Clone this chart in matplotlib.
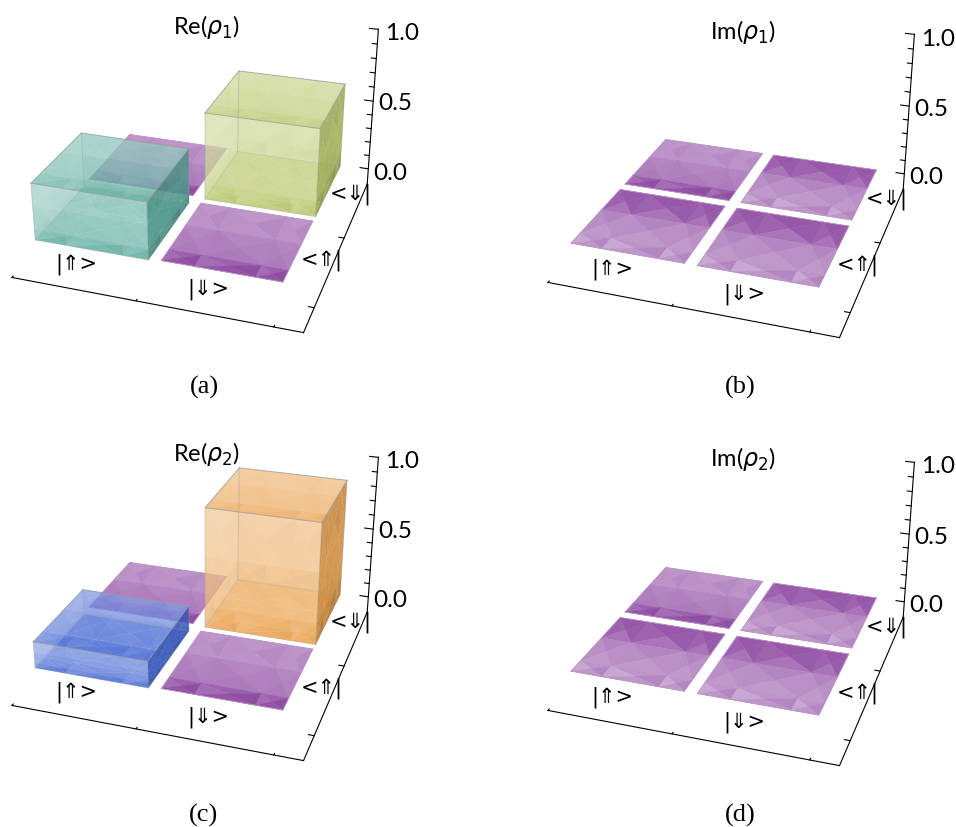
import numpy as np
import matplotlib
matplotlib.use('Agg')
import matplotlib.pyplot as plt
from mpl_toolkits.mplot3d.art3d import Poly3DCollection

plt.rcParams['mathtext.fontset'] = 'dejavusans'
SANS = ['Lato', 'DejaVu Sans']

# heights of the density matrix cells, [ket, bra]
re1 = [[0.386, 0.012], [0.012, 0.607]]
im1 = [[0.012, 0.012], [0.012, 0.012]]
re2 = [[0.18, 0.012], [0.012, 0.83]]
im2 = [[0.012, 0.012], [0.012, 0.012]]
titles = ['Re($\\rho_1$)', 'Im($\\rho_1$)', 'Re($\\rho_2$)', 'Im($\\rho_2$)']
captions = ['(a)', '(b)', '(c)', '(d)']
kets = ['|⇑>', '|⇓>']
bras = ['<⇑|', '<⇓|']
zticks = [0.0, 0.5, 1.0]
zminor = [0.1, 0.2, 0.3, 0.4, 0.6, 0.7, 0.8, 0.9]

# bar colours per panel, [ket][bra]; anything else is a flat purple sheet
PURPLE = (0.56, 0.29, 0.64)
bar_cols = [
    {(0, 0): (0.33, 0.66, 0.60), (1, 1): (0.70, 0.76, 0.36)},
    {},
    {(0, 0): (0.22, 0.37, 0.82), (1, 1): (0.91, 0.60, 0.24)},
    {},
]
# which way the sheets get lighter: +1 to the back, -1 to the front
sheet_dir = [
    {(1, 0): 1, (0, 1): 1},
    {(0, 1): 1, (1, 1): -1, (0, 0): -1, (1, 0): -1},
    {(1, 0): 1, (0, 1): 1},
    {(0, 1): 1, (1, 1): -1, (0, 0): -1, (1, 0): -1},
]
panels = [re1, im1, re2, im2]
offsets = [(0, 0), (536, 5), (0, 428), (536, 433)]

# view, found by fitting to the picture
ELEV, AZIM, FOCAL, KZ = 25.96, -71.65, 0.4156, 1.2351
S, TX, TY = 2704.82, 203.02, 148.5
G = 0.05
X0, XE, YE, Y1, ZB, XT, YT = 0.008, 2.1818, -0.2669, 1.9825, -0.1177, 0.975, 0.045
W, H = 956, 828

UB = [0, 0.28, 0.78, 1]
VB = [0, 0.18, 0.6, 1]
FACET = [0.0, 0.07, -0.04, 0.09, 0.03, -0.06, 0.05, -0.02, 0.08, -0.05, 0.02, 0.06]
# where the z tick labels sit in panel (a), pixels
zlab_x = [373, 378, 385]
zlab_y = [173, 104, 34]


def shade(col, t):
    col = np.array(col)
    if t >= 0:
        return tuple(col + (1 - col) * min(t, 1))
    return tuple(col * (1 + t))


def face(ax, corners, col, t0, t1, alpha, z, amp=1.0, seam=0.0):
    # corners go p00 p10 p11 p01, t runs from t0 at v=0 to t1 at v=1
    p00, p10, p11, p01 = [np.array(c, float) for c in corners]

    def at(u, v):
        return (p00 * (1 - u) + p10 * u) * (1 - v) + (p01 * (1 - u) + p11 * u) * v
    tris, cols = [], []
    k = 0
    for i in range(3):
        for j in range(3):
            u0, u1, v0, v1 = UB[i], UB[i + 1], VB[j], VB[j + 1]
            vm = (v0 + v1) / 2
            c = at((u0 + u1) / 2, vm)
            a, b, d, e = at(u0, v0), at(u1, v0), at(u1, v1), at(u0, v1)
            for q, r, vt in [(a, b, v0), (b, d, vm), (d, e, v1), (e, a, vm)]:
                tris.append([q, r, c])
                t = t0 + (t1 - t0) * (vt + vm) / 2
                cols.append(shade(col, t + amp * FACET[k % 12]) + (alpha,))
                k += 5
    pc = Poly3DCollection(tris, facecolors=cols, edgecolors=cols if seam else 'none', linewidths=seam, zorder=z)
    ax.add_collection3d(pc)


def edges(ax, x0, x1, y0, y1, z0, z1, col, z, lw=0.7):
    for a, b in [((x0, y0), (x1, y0)), ((x1, y0), (x1, y1)), ((x1, y1), (x0, y1)), ((x0, y1), (x0, y0))]:
        ax.plot([a[0], b[0]], [a[1], b[1]], [z1, z1], color=col, lw=lw, zorder=z + 0.5)
        if z1 - z0 > 0.05:
            ax.plot([a[0], b[0]], [a[1], b[1]], [z0, z0], color=col, lw=lw, alpha=0.3, zorder=z + 0.5)
            ax.plot([a[0], a[0]], [a[1], a[1]], [z0, z1], color=col, lw=lw, alpha=0.4, zorder=z + 0.5)


def bar(ax, i, j, h, col, z):
    x0, x1, y0, y1 = i + G, i + 1 - G, j + G, j + 1 - G
    f = lambda *p: [(p[k], p[k + 1], p[k + 2]) for k in range(0, 12, 3)]
    face(ax, f(x0, y0, 0, x1, y0, 0, x1, y1, 0, x0, y1, 0), col, 0.0, 0.1, 0.75, z)
    face(ax, f(x0, y1, 0, x1, y1, 0, x1, y1, h, x0, y1, h), col, -0.05, 0.3, 0.55, z + 0.01)
    face(ax, f(x0, y0, 0, x0, y1, 0, x0, y1, h, x0, y0, h), col, -0.05, 0.3, 0.45, z + 0.02)
    face(ax, f(x1, y0, 0, x1, y1, 0, x1, y1, h, x1, y0, h), col, -0.28, -0.12, 0.72, z + 0.03)
    face(ax, f(x0, y0, 0, x1, y0, 0, x1, y0, h, x0, y0, h), col, 0.18, 0.66, 0.5, z + 0.04)
    face(ax, f(x0, y0, h, x1, y0, h, x1, y1, h, x0, y1, h), col, 0.05, 0.55, 0.5, z + 0.05)
    edges(ax, x0, x1, y0, y1, 0, h, (0.6, 0.62, 0.62, 0.8), z + 0.05)


def sheet(ax, i, j, h, sign, z):
    x0, x1, y0, y1 = i + G, i + 1 - G, j + G, j + 1 - G
    t0, t1 = (0.0, 0.5) if sign > 0 else (0.42, 0.06)
    pts = [(x0, y0, h), (x1, y0, h), (x1, y1, h), (x0, y1, h)]
    face(ax, pts, PURPLE, t0, t1, 0.97, z, amp=1.3, seam=0.3)
    edges(ax, x0, x1, y0, y1, h, h, (0.72, 0.58, 0.76), z, lw=0.6)


fig = plt.figure(figsize=(W / 100, H / 100), dpi=100)
for n, vals in enumerate(panels):
    ox, oy = offsets[n]
    ax = fig.add_subplot(2, 2, n + 1, projection='3d')
    ax.computed_zorder = False
    ax.set_axis_off()
    ax.patch.set_visible(False)
    zo = 1
    for i, j in [(0, 1), (1, 1), (0, 0), (1, 0)]:
        h = vals[i][j]
        if (i, j) in bar_cols[n]:
            bar(ax, i, j, h, bar_cols[n][(i, j)], zo)
        else:
            sheet(ax, i, j, h, sheet_dir[n].get((i, j), 1), zo)
        zo += 1

    # axes frame and ticks
    k = dict(color='k', lw=0.8, zorder=20)
    ax.plot([X0, XE], [YE, YE], [ZB, ZB], **k)
    ax.plot([XE, XE], [YE, Y1], [ZB, ZB], **k)
    ax.plot([XE, XE], [Y1, Y1], [ZB, 1.0], **k)
    for x in [X0, XT, XT + 1]:
        ax.plot([x, x], [YE, YE + 0.02], [ZB, ZB], **k)
    for y in [YT, YT + 1]:
        ax.plot([XE, XE - 0.04], [y, y], [ZB, ZB], **k)
    for zt in zticks:
        ax.plot([XE, XE - 0.07], [Y1, Y1], [zt, zt], **k)
    for zt in zminor:
        ax.plot([XE, XE - 0.04], [Y1, Y1], [zt, zt], **k)

    ax.set_xlim(-0.2, 2.4)
    ax.set_ylim(-0.4, 2.1)
    ax.set_zlim(-0.15, 1.05)
    ax.set_box_aspect((2.6, 2.5, 1.2 * KZ))
    ax.view_init(elev=ELEV, azim=AZIM, roll=0)
    ax.set_proj_type('persp', focal_length=FOCAL)

    # place the axes so the projected view lands on the right pixels
    vl = ax.viewLim
    left = S * vl.x0 + TX + ox
    top = -S * vl.y1 + TY + oy
    wd, ht = S * vl.width, S * vl.height
    ax.set_position([left / W, 1 - (top + ht) / H, wd / W, ht / H])

    for zt, lx, ly in zip(zticks, zlab_x, zlab_y):
        fig.text((lx + ox) / W, 1 - (ly + oy) / H, f'{zt:.1f}', family=SANS, fontsize=17.5, ha='left', va='center')
    fig.text((207 + ox) / W, 1 - (27 + oy - (1 if n > 1 else 0)) / H, titles[n], family=SANS, fontsize=17, ha='center', va='center')
    fig.text((76 + ox) / W, 1 - (264 + oy) / H, kets[0], family='DejaVu Sans', fontsize=15, ha='center', va='center')
    fig.text((208 + ox) / W, 1 - (289 + oy) / H, kets[1], family='DejaVu Sans', fontsize=15, ha='center', va='center')
    fig.text((322 + ox) / W, 1 - (260 + oy) / H, bras[0], family='DejaVu Sans', fontsize=15, ha='center', va='center')
    fig.text((351 + ox) / W, 1 - (194 + oy) / H, bras[1], family='DejaVu Sans', fontsize=15, ha='center', va='center')
    cap_y = 387 if n < 2 else 815
    fig.text((204 + ox) / W, 1 - cap_y / H, captions[n], family='Liberation Serif', fontsize=19, ha='center', va='center')

fig.savefig('out.png', dpi=100)
